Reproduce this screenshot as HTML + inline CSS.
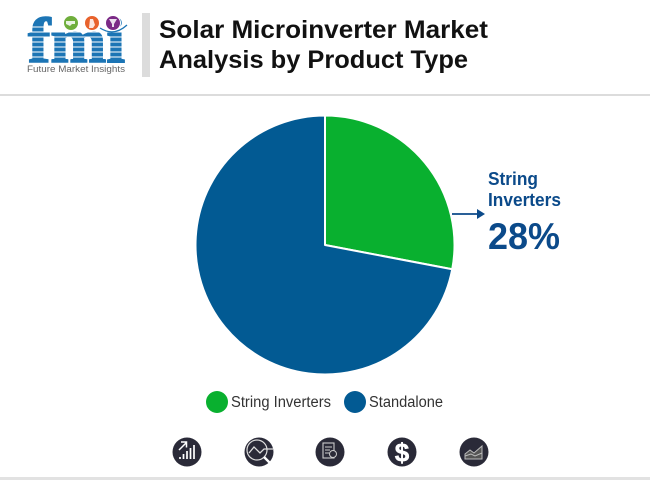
<!DOCTYPE html>
<html lang="en">
<head>
<meta charset="utf-8">
<title>Solar Microinverter Market Analysis by Product Type</title>
<style>
html,body{margin:0;padding:0;background:#fff;}
#chart{display:block;width:650px;height:480px;}
text{font-family:"Liberation Sans",sans-serif;}
</style>
</head>
<body>
<svg id="chart" width="650" height="480" viewBox="0 0 650 480" xmlns="http://www.w3.org/2000/svg">
  <g>
    <text x="28" y="62" font-size="63" font-weight="700" fill="#1c75b5" stroke="#1c75b5" stroke-width="1.6" textLength="97" lengthAdjust="spacingAndGlyphs" style="font-family:'Liberation Serif',serif">fmi</text>
    <g stroke="#fff" stroke-width="1">
      <line x1="24" x2="130" y1="27" y2="27"/><line x1="24" x2="130" y1="32" y2="32"/>
      <line x1="24" x2="130" y1="37" y2="37"/><line x1="24" x2="130" y1="42" y2="42"/>
      <line x1="24" x2="130" y1="47" y2="47"/><line x1="24" x2="130" y1="52" y2="52"/>
      <line x1="24" x2="130" y1="57" y2="57"/>
    </g>
    <circle cx="71" cy="23" r="7.5" fill="#6fae3c" stroke="#fff" stroke-width="1"/>
    <circle cx="92" cy="23" r="7.5" fill="#e8622c" stroke="#fff" stroke-width="1"/>
    <circle cx="113" cy="23" r="7.5" fill="#7b2a86" stroke="#fff" stroke-width="1"/>
    <path d="M66 21h9v3h-3l-2 2-4-2zM90 19h3l2 6-2 3h-4zM109 19h8l-3 5v3h-2v-3z" fill="#fff" opacity=".85"/>
    <path d="M100 28q14 9 27-3" fill="none" stroke="#1c75b5" stroke-width="1.3"/>
    <text x="27" y="72" font-size="9.6" fill="#666" textLength="98" lengthAdjust="spacingAndGlyphs">Future Market Insights</text>
  </g>
  <rect x="142" y="13" width="8" height="64" fill="#dcdcdc"/>
  <text x="159" y="38" font-size="25" font-weight="700" fill="#111" textLength="329" lengthAdjust="spacingAndGlyphs">Solar Microinverter Market</text>
  <text x="159" y="68" font-size="25" font-weight="700" fill="#111" textLength="309" lengthAdjust="spacingAndGlyphs">Analysis by Product Type</text>
  <rect x="0" y="94" width="650" height="2" fill="#dcdcdc"/>

  <g id="pie"></g>

  <g>
    <line x1="452" y1="214" x2="479" y2="214" stroke="#0b4a8a" stroke-width="1.8"/>
    <polygon points="485,214 477,209 477,219" fill="#0b4a8a"/>
    <text x="488" y="185" font-size="18" font-weight="700" fill="#0b4a8a" textLength="50" lengthAdjust="spacingAndGlyphs">String</text>
    <text x="488" y="206" font-size="18" font-weight="700" fill="#0b4a8a" textLength="73" lengthAdjust="spacingAndGlyphs">Inverters</text>
    <text x="488" y="249" font-size="37" font-weight="700" fill="#0b4a8a" textLength="72" lengthAdjust="spacingAndGlyphs">28%</text>
  </g>

  <g>
    <g>
      <circle cx="217" cy="402" r="11" fill="#09b02f"/>
      <text x="231" y="407" font-size="15.5" fill="#333" textLength="100" lengthAdjust="spacingAndGlyphs">String Inverters</text>
    </g>
    <g>
      <circle cx="355" cy="402" r="11" fill="#025a93"/>
      <text x="369" y="407" font-size="15.5" fill="#333" textLength="74" lengthAdjust="spacingAndGlyphs">Standalone</text>
    </g>
  </g>

  <g>
    <g>
      <circle cx="187" cy="452" r="14.5" fill="#2a2a38"/>
      <path d="M180 459v-2M183.500 459v-5M187 459v-8M190.500 459v-11M194 459v-14" stroke="#fff" stroke-width="1.7"/>
      <path d="M179 450l7-7M181 442h5.500v5.500" stroke="#fff" stroke-width="1.5" fill="none"/>
    </g>
    <g>
      <circle cx="259" cy="452" r="14.5" fill="#2a2a38"/>
      <circle cx="257" cy="450" r="10" fill="none" stroke="#ddd" stroke-width="1.2"/>
      <path d="M249 453l5-6 6 6 4-4h9" stroke="#ddd" stroke-width="1.3" fill="none"/>
      <path d="M264 457l8 8" stroke="#fff" stroke-width="2.4" fill="none"/>
    </g>
    <g>
      <circle cx="330" cy="452" r="14.5" fill="#2a2a38"/>
      <rect x="323" y="443" width="11" height="15" fill="none" stroke="#ccc" stroke-width="1.1"/>
      <path d="M325 447h7M325 450h5M325 453h4" stroke="#ccc" stroke-width="1"/>
      <circle cx="333" cy="454" r="3.500" fill="#2a2a38" stroke="#ccc" stroke-width="1"/>
    </g>
    <g>
      <circle cx="402" cy="452" r="14.5" fill="#2a2a38"/>
      <text x="402" y="461.500" font-size="26" font-weight="700" fill="#fff" stroke="#fff" stroke-width=".5" text-anchor="middle">$</text>
    </g>
    <g>
      <circle cx="474" cy="452" r="14.5" fill="#2a2a38"/>
      <path d="M465 454l5-4 4 3 8-7v13h-17z" fill="#555" stroke="#bbb" stroke-width="1"/>
      <path d="M465 456l6-2 4 2 7-3" fill="none" stroke="#bbb" stroke-width="1"/>
    </g>
  </g>
  <rect x="0" y="477" width="650" height="3" fill="#e2e2e2"/>
</svg>
<script>
var categories = ["String Inverters", "Standalone"];
var shareValues = [28, 72];
var sliceColors = ["#09b02f", "#025a93"];

function angleScale(v, total) { return v / total * Math.PI * 2; }
function polarX(a) { return 325 + 129.5 * Math.sin(a); }
function polarY(a) { return 245 - 129.5 * Math.cos(a); }

var pieGroup = document.getElementById('pie');
var total = shareValues.reduce(function (s, v) { return s + v; }, 0);
var cumulative = 0;
shareValues.forEach(function (v, i) {
  var a0 = angleScale(cumulative, total);
  cumulative += v;
  var a1 = angleScale(cumulative, total);
  var large = a1 - a0 > Math.PI ? 1 : 0;
  var el = document.createElementNS('http://www.w3.org/2000/svg', 'path');
  el.setAttribute('d', 'M325 245L' + polarX(a0) + ' ' + polarY(a0) + 'A129.5 129.5 0 ' + large + ' 1 ' + polarX(a1) + ' ' + polarY(a1) + 'Z');
  el.setAttribute('fill', sliceColors[i]);
  el.setAttribute('stroke', '#fff');
  el.setAttribute('stroke-width', '2');
  el.setAttribute('stroke-linejoin', 'round');
  
  
  el.setAttribute('aria-label', categories[i] + ' ' + v + '%');
  pieGroup.appendChild(el);
});
</script>
</body>
</html>
